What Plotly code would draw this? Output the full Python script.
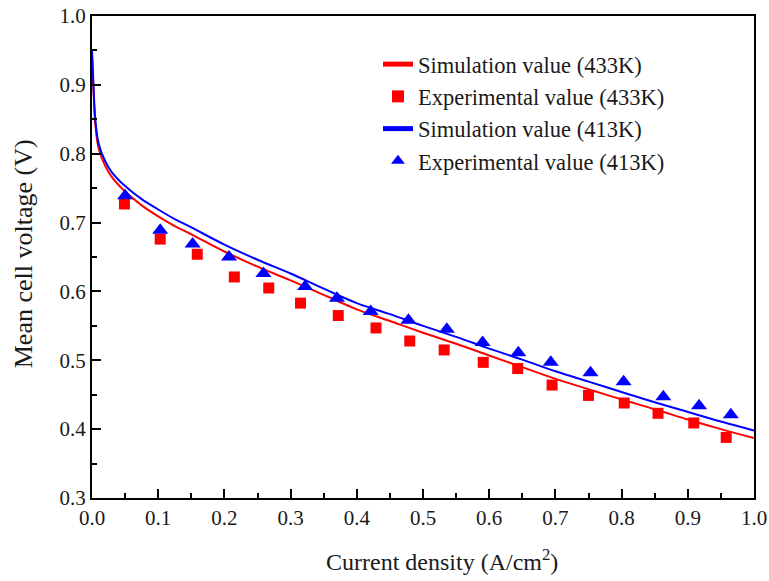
import plotly.graph_objects as go

# Simulation curves
sim_x = [0.0, 0.002, 0.005, 0.01, 0.02, 0.03, 0.05, 0.075, 0.1, 0.125, 0.15, 0.2, 0.25, 0.3, 0.35,
         0.4, 0.45, 0.5, 0.55, 0.6, 0.65, 0.7, 0.75, 0.8, 0.85, 0.9, 0.95, 1.0]
sim433_y = [0.945, 0.898, 0.843, 0.808, 0.782, 0.766, 0.745, 0.725, 0.709, 0.695, 0.683, 0.658, 0.636,
            0.616, 0.595, 0.574, 0.557, 0.540, 0.524, 0.507, 0.490, 0.473, 0.458, 0.443, 0.429, 0.414,
            0.400, 0.387]
sim413_y = [0.950, 0.905, 0.850, 0.815, 0.789, 0.773, 0.753, 0.734, 0.719, 0.705, 0.693, 0.668, 0.646,
            0.626, 0.604, 0.583, 0.567, 0.550, 0.534, 0.517, 0.501, 0.484, 0.469, 0.454, 0.439, 0.425,
            0.411, 0.398]

# Experimental data
exp433_x = [0.049, 0.103, 0.159, 0.215, 0.267, 0.315, 0.372, 0.429, 0.480, 0.532, 0.591, 0.643, 0.695,
            0.750, 0.804, 0.855, 0.909, 0.958]
exp433_y = [0.727, 0.676, 0.654, 0.621, 0.605, 0.583, 0.565, 0.547, 0.528, 0.515, 0.497, 0.488, 0.464,
            0.449, 0.438, 0.423, 0.409, 0.388]
exp413_x = [0.050, 0.103, 0.152, 0.207, 0.259, 0.322, 0.370, 0.421, 0.478, 0.536, 0.590, 0.644, 0.693,
            0.753, 0.803, 0.863, 0.917, 0.965]
exp413_y = [0.739, 0.689, 0.669, 0.650, 0.626, 0.607, 0.590, 0.571, 0.558, 0.545, 0.526, 0.511, 0.497,
            0.482, 0.469, 0.447, 0.434, 0.421]

names = ["Simulation value (433K)", "Experimental value (433K)",
         "Simulation value (413K)", "Experimental value (413K)"]
x_title = "Current density (A/cm<sup>2</sup>)"
y_title = "Mean cell voltage (V)"

RED = "#ff0000"
BLUE = "#0000ff"
FONT = "Liberation Serif"
TXT = "#1a1a1a"

fig = go.Figure()
fig.add_trace(go.Scatter(x=sim_x, y=sim433_y, mode="lines", name=names[0],
                         line=dict(color=RED, width=2, shape="spline")))
fig.add_trace(go.Scatter(x=exp433_x, y=exp433_y, mode="markers", name=names[1],
                         marker=dict(symbol="square", size=11, color=RED)))
fig.add_trace(go.Scatter(x=sim_x, y=sim413_y, mode="lines", name=names[2],
                         line=dict(color=BLUE, width=2, shape="spline")))
fig.add_trace(go.Scatter(x=exp413_x, y=exp413_y, mode="markers", name=names[3],
                         marker=dict(symbol="triangle-up", size=14, color=BLUE)))

axis_common = dict(
    showline=True, linecolor="black", linewidth=2, mirror=True,
    showgrid=False, zeroline=False, automargin=False,
    ticks="inside", ticklen=9, tickwidth=2, tickcolor="black",
    tickfont=dict(family=FONT, size=21, color=TXT),
)

fig.update_xaxes(range=[0, 1.0], dtick=0.1, tickformat=".1f",
                 minor=dict(dtick=0.05, ticks="inside", ticklen=5, tickwidth=2, tickcolor="black"),
                 **axis_common)
fig.update_yaxes(range=[0.3, 1.0], dtick=0.1, tickformat=".1f",
                 minor=dict(dtick=0.05, ticks="inside", ticklen=5, tickwidth=2, tickcolor="black"),
                 **axis_common)

fig.add_annotation(text=x_title, xref="paper", yref="paper", x=0.529, y=-0.128,
                   xanchor="center", yanchor="middle", showarrow=False,
                   font=dict(family=FONT, size=24, color=TXT))
fig.add_annotation(text=y_title, xref="paper", yref="paper", x=-0.104, y=0.506,
                   xanchor="center", yanchor="middle", showarrow=False, textangle=-90,
                   font=dict(family=FONT, size=26, color=TXT))

fig.update_layout(
    width=769, height=581,
    margin=dict(l=92, r=15, t=16, b=83),
    paper_bgcolor="white", plot_bgcolor="white",
    font=dict(family=FONT, color=TXT),
    legend=dict(x=0.432, y=0.944, xanchor="left", yanchor="top",
                bgcolor="rgba(0,0,0,0)", font=dict(family=FONT, size=22.5, color=TXT),
                tracegroupgap=0, itemsizing="constant"),
    showlegend=True,
)

fig.write_html("out.html")
